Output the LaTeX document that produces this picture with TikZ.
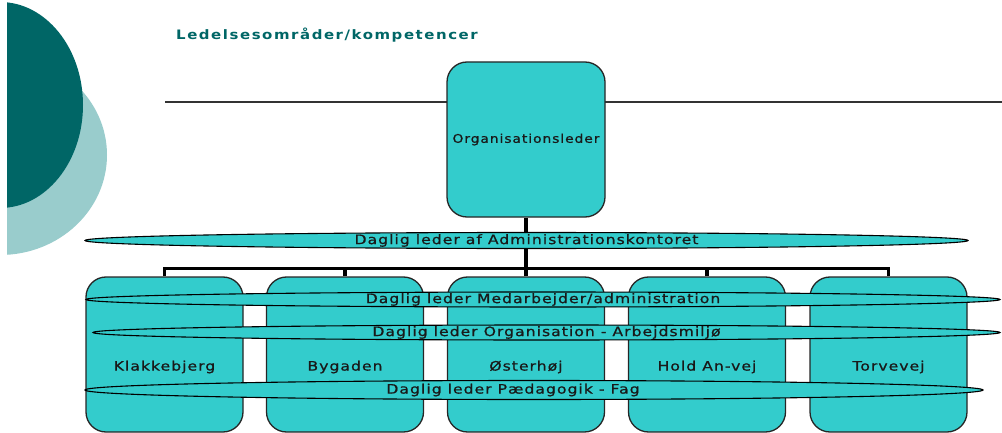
\documentclass[tikz,border=0pt]{standalone}
\usepackage{fontspec}
\setmainfont{DejaVu Sans}
\newfontfamily\lblfont[LetterSpace=8, FakeStretch=1.2, FakeBold=0.8]{DejaVu Sans}
\newfontfamily\orgfont[LetterSpace=8, FakeStretch=1.15, FakeBold=0.8]{DejaVu Sans}
\newfontfamily\ttlfont[LetterSpace=12, FakeStretch=1.15]{DejaVu Sans Bold}
\usetikzlibrary{shapes.geometric}
\usetikzlibrary{positioning}
\definecolor{tealdark}{HTML}{006666}
\definecolor{teallight}{HTML}{99CCCC}
\definecolor{boxfill}{HTML}{33CCCC}

\begin{document}
\begin{tikzpicture}[x=1pt, y=-1pt,
	enhed/.style={draw=black!85, line width=1.3pt, fill=boxfill, rounded corners=20pt,
		minimum width=157pt, minimum height=155pt, inner sep=0pt},
	lbl/.style={font=\lblfont\fontsize{13}{15}\selectfont, text=black!90},
	band/.style={ellipse, draw=black, line width=1.1pt, fill=boxfill, inner sep=0pt},
	conn/.style={line width=3.3pt, black}]
			\useasboundingbox (0,0) rectangle (1002,433);
			% dekoration
			\begin{scope}
				\clip (7,0) rectangle (200,433);
				\fill[teallight] (0,155) ellipse (107 and 100);
				\fill[tealdark] (0,105) ellipse (83 and 103);
			\end{scope}
			% titel
			\node[anchor=base west, inner sep=0pt, text=tealdark, font=\ttlfont\fontsize{13}{15}\selectfont] (titel) at (176,39.3) {Ledelsesområder/kompetencer};
			% vandret linje
			\draw[black!80, line width=1.6pt] (165,102) -- (1002,102);
			% organisationsleder
			\node[enhed, minimum width=158pt, font=\orgfont\fontsize{12}{14}\selectfont, text=black!90] (org) at (526,139.5) {Organisationsleder};
			\coordinate (bus) at (526,268.5);
			\draw[conn] (org.south) -- (bus);
			% afdelinger
			\foreach \n/\x/\t in {kl/164.5/Klakkebjerg, by/345/Bygaden, os/526/Østerhøj, ha/707/Hold An-vej, tv/888.5/Torvevej}
				\node[enhed, label={[lbl, anchor=base, yshift=-12.5pt]center:\t}] (\n) at (\x,354.5) {};
			\draw[conn] (kl.north) -- (kl.north |- bus) -- (tv.north |- bus) -- (tv.north);
			\draw[conn] (by.north) -- (by.north |- bus);
			\draw[conn] (os.north) -- (bus);
			\draw[conn] (ha.north) -- (ha.north |- bus);
			% ledelsesomraader
			\node[band, minimum width=883pt, minimum height=16pt, label={[lbl]center:Daglig leder af Administrationskontoret}] (adm) at (526.5,240.5) {};
			\node[band, minimum width=914pt, minimum height=15pt, label={[lbl]center:Daglig leder Medarbejder/administration}] (med) at (543,299.5) {};
			\node[band, minimum width=907pt, minimum height=15pt, label={[lbl]center:Daglig leder Organisation - Arbejdsmiljø}] (arb) at (546.5,332.5) {};
			\node[band, minimum width=898pt, minimum height=19pt, label={[lbl, xshift=-21pt]center:Daglig leder Pædagogik - Fag}] (paed) at (534,390) {};
		\end{tikzpicture}
\end{document}
